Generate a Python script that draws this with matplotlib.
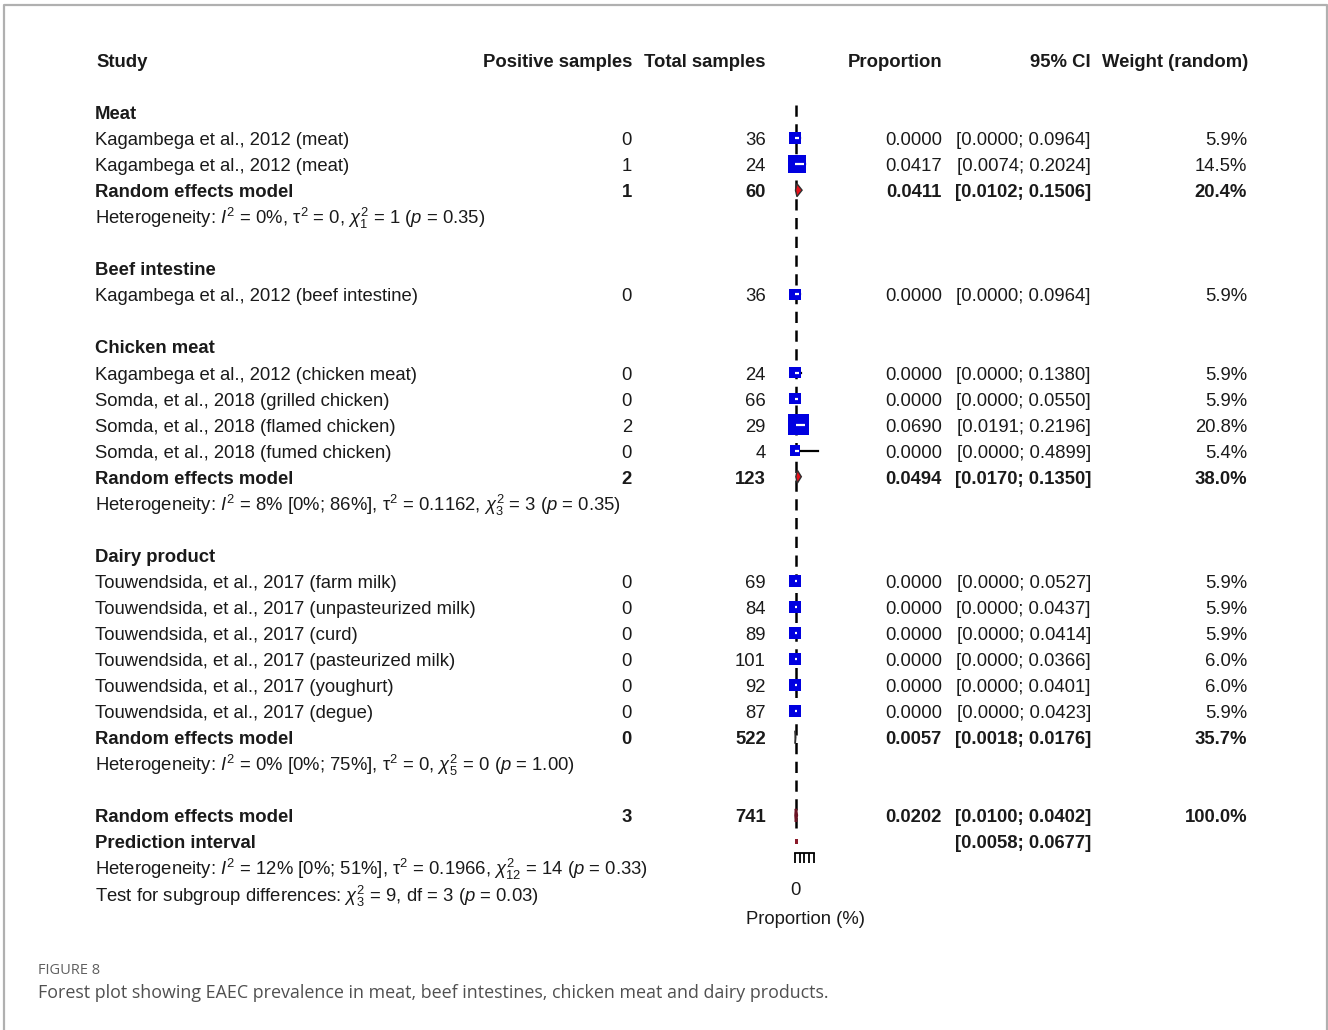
import matplotlib
matplotlib.use("Agg")
import matplotlib.pyplot as plt
from matplotlib.patches import Polygon, Rectangle
import numpy as np

plt.rcParams['font.family'] = ['Liberation Sans', 'DejaVu Sans']
plt.rcParams['mathtext.fontset'] = 'custom'
plt.rcParams['mathtext.rm'] = 'Liberation Sans'
plt.rcParams['mathtext.it'] = 'Liberation Sans:italic'
plt.rcParams['mathtext.bf'] = 'Liberation Sans:bold'

# ---- data ----
groups = ["Meat", "Beef intestine", "Chicken meat", "Dairy product"]
study_names = [
    "Kagambega et al., 2012 (meat)",
    "Kagambega et al., 2012 (meat)",
    "Kagambega et al., 2012 (beef intestine)",
    "Kagambega et al., 2012 (chicken meat)",
    "Somda, et al., 2018 (grilled chicken)",
    "Somda, et al., 2018 (flamed chicken)",
    "Somda, et al., 2018 (fumed chicken)",
    "Touwendsida, et al., 2017 (farm milk)",
    "Touwendsida, et al., 2017 (unpasteurized milk)",
    "Touwendsida, et al., 2017 (curd)",
    "Touwendsida, et al., 2017 (pasteurized milk)",
    "Touwendsida, et al., 2017 (youghurt)",
    "Touwendsida, et al., 2017 (degue)",
]
study_group = [0, 0, 1, 2, 2, 2, 2, 3, 3, 3, 3, 3, 3]
events = [0, 1, 0, 0, 0, 2, 0, 0, 0, 0, 0, 0, 0]
totals = [36, 24, 36, 24, 66, 29, 4, 69, 84, 89, 101, 92, 87]
props = [0.0, 0.0417, 0.0, 0.0, 0.0, 0.0690, 0.0, 0.0, 0.0, 0.0, 0.0, 0.0, 0.0]
ci_lo = [0.0, 0.0074, 0.0, 0.0, 0.0, 0.0191, 0.0, 0.0, 0.0, 0.0, 0.0, 0.0, 0.0]
ci_hi = [0.0964, 0.2024, 0.0964, 0.1380, 0.0550, 0.2196, 0.4899,
         0.0527, 0.0437, 0.0414, 0.0366, 0.0401, 0.0423]
weights = [5.9, 14.5, 5.9, 5.9, 5.9, 20.8, 5.4, 5.9, 5.9, 5.9, 6.0, 6.0, 5.9]

# subgroup random effects (None = single study, no pooled row)
sub_events = [1, None, 2, 0]
sub_totals = [60, None, 123, 522]
sub_prop = [0.0411, None, 0.0494, 0.0057]
sub_lo = [0.0102, None, 0.0170, 0.0018]
sub_hi = [0.1506, None, 0.1350, 0.0176]
sub_w = [20.4, None, 38.0, 35.7]
sub_het = [
    r"Heterogeneity: $I^2$ = 0%, $\mathrm{\tau}^2$ = 0, $\chi^2_1$ = 1 ($p$ = 0.35)",
    None,
    r"Heterogeneity: $I^2$ = 8% [0%; 86%], $\mathrm{\tau}^2$ = 0.1162, $\chi^2_3$ = 3 ($p$ = 0.35)",
    r"Heterogeneity: $I^2$ = 0% [0%; 75%], $\mathrm{\tau}^2$ = 0, $\chi^2_5$ = 0 ($p$ = 1.00)",
]

overall_events = 3
overall_total = 741
overall_prop = 0.0202
overall_lo = 0.0100
overall_hi = 0.0402
overall_w = 100.0
pred_lo = 0.0058
pred_hi = 0.0677
overall_het = r"Heterogeneity: $I^2$ = 12% [0%; 51%], $\mathrm{\tau}^2$ = 0.1966, $\chi^2_{12}$ = 14 ($p$ = 0.33)"
subgroup_test = r"Test for subgroup differences: $\chi^2_3$ = 9, df = 3 ($p$ = 0.03)"

axis_ticks = [0.0, 0.1, 0.2, 0.3, 0.4]
axis_labels = ["0", "", "", "", ""]

# ---- layout ----
W, H = 1328, 1030
ROW0, ROWH = 112, 26.05
TXT_DY = 2.5
FS = 13.3
TXT = "#1a1a1a"
X_STUDY, X_POS, X_TOT, X_PROP, X_CI, X_W = 95, 632, 766, 942, 1091, 1247
BLUE = "#0000e0"


def py(r):
    return ROW0 + ROWH * r + TXT_DY


fig = plt.figure(figsize=(W / 100, H / 100), dpi=100)
tax = fig.add_axes([0, 0, 1, 1])
tax.set_xlim(0, W)
tax.set_ylim(H, 0)
tax.axis("off")

# forest panel: x in proportion units, y in row units
px0, pscale = 795, 47.0
fx_l, fx_r = 780, 830
fax = fig.add_axes([fx_l / W, 0, (fx_r - fx_l) / W, 1])
fax.set_xlim((fx_l - px0) / pscale, (fx_r - px0) / pscale)
fax.set_ylim((H - ROW0) / ROWH, -ROW0 / ROWH)
fax.patch.set_visible(False)
for s in ["top", "left", "right"]:
    fax.spines[s].set_visible(False)
fax.set_yticks([])


def txt(x, r, s, ha="left", bold=False, **kw):
    tax.text(x, py(r), s, ha=ha, va="center", fontsize=FS, color=TXT,
             fontweight="bold" if bold else "normal", **kw)


# headers
hy = (60 - ROW0) / ROWH
txt(X_STUDY + 1, hy, "Study", bold=True)
txt(X_POS, hy, "Positive samples", ha="right", bold=True)
txt(X_TOT, hy, "Total samples", ha="right", bold=True)
txt(X_PROP, hy, "Proportion", ha="right", bold=True)
txt(X_CI, hy, "95% CI", ha="right", bold=True)
txt(X_W + 1, hy, "Weight (random)", ha="right", bold=True)


def diamond(r, est, lo, hi, fc, ec, lw=1.0):
    h = 0.25
    fax.add_patch(Polygon([[lo, r], [est, r - h], [hi, r], [est, r + h]],
                          closed=True, facecolor=fc, edgecolor=ec, lw=lw, zorder=4))


row = 0
for g, gname in enumerate(groups):
    txt(X_STUDY, row, gname, bold=True)
    row += 1
    for i in range(len(study_names)):
        if study_group[i] != g:
            continue
        txt(X_STUDY, row, study_names[i])
        txt(X_POS, row, str(events[i]), ha="right")
        txt(X_TOT, row, str(totals[i]), ha="right")
        txt(X_PROP, row, f"{props[i]:.4f}", ha="right")
        txt(X_CI, row, f"[{ci_lo[i]:.4f}; {ci_hi[i]:.4f}]", ha="right")
        txt(X_W, row, f"{weights[i]:.1f}%", ha="right")
        # CI line, box, inside part white
        fax.plot([ci_lo[i], ci_hi[i]], [row, row], color="black", lw=1.6, zorder=3)
        side_px = 3.6 * np.sqrt(weights[i])
        fax.scatter([props[i]], [row], marker="s", s=(side_px * 0.72 * 1.3) ** 2,
                    color=BLUE, edgecolors="none", zorder=4)
        half = side_px / 2 / pscale
        a, b = max(ci_lo[i], props[i] - half), min(ci_hi[i], props[i] + half)
        fax.plot([a, b], [row, row], color="white", lw=1.6, zorder=5,
                 solid_capstyle="butt")
        row += 1
    if sub_prop[g] is not None:
        txt(X_STUDY, row, "Random effects model", bold=True)
        txt(X_POS, row, str(sub_events[g]), ha="right", bold=True)
        txt(X_TOT, row, str(sub_totals[g]), ha="right", bold=True)
        txt(X_PROP, row, f"{sub_prop[g]:.4f}", ha="right", bold=True)
        txt(X_CI, row, f"[{sub_lo[g]:.4f}; {sub_hi[g]:.4f}]", ha="right", bold=True)
        txt(X_W, row, f"{sub_w[g]:.1f}%", ha="right", bold=True)
        diamond(row, sub_prop[g], sub_lo[g], sub_hi[g], "#e8101a", "#303030")
        row += 1
        txt(X_STUDY, row, sub_het[g])
        row += 1
    row += 1

# overall
txt(X_STUDY, row, "Random effects model", bold=True)
txt(X_POS, row, str(overall_events), ha="right", bold=True)
txt(X_TOT, row, str(overall_total), ha="right", bold=True)
txt(X_PROP, row, f"{overall_prop:.4f}", ha="right", bold=True)
txt(X_CI, row, f"[{overall_lo:.4f}; {overall_hi:.4f}]", ha="right", bold=True)
txt(X_W, row, f"{overall_w:.1f}%", ha="right", bold=True)
diamond(row, overall_prop, overall_lo, overall_hi, "#8b1a2a", "#6a1424", lw=1.8)
overall_row = row
row += 1
txt(X_STUDY, row, "Prediction interval", bold=True)
txt(X_CI, row, f"[{pred_lo:.4f}; {pred_hi:.4f}]", ha="right", bold=True)
fax.add_patch(Rectangle((pred_lo, row - 0.1), pred_hi - pred_lo, 0.2,
                        facecolor="#8b1a2a", edgecolor="none", zorder=4))
row += 1
txt(X_STUDY, row, overall_het)
row += 1
txt(X_STUDY, row, subgroup_test)

# dashed reference line at overall estimate
fax.plot([overall_prop, overall_prop], [-0.28, overall_row + 0.5], color="black",
         lw=1.8, dashes=(4.5, 3.0), zorder=2)

# x axis
fax.spines["bottom"].set_position(("data", (853 - ROW0) / ROWH))
fax.spines["bottom"].set_bounds(axis_ticks[0], axis_ticks[-1])
fax.spines["bottom"].set_linewidth(1.3)
fax.set_xticks(axis_ticks)
fax.set_xticklabels(axis_labels)
fax.tick_params(axis="x", length=7, width=1.3, pad=14, labelsize=FS, labelcolor=TXT)
tax.text(px0 + 11, 920, "Proportion (%)", ha="center", va="center", fontsize=FS, color=TXT)

# frame and caption
tax.plot([4, 4, 1327, 1327], [H, 5, 5, H], color="#b0b0b0", lw=1.6, clip_on=False)
tax.text(38, 970, "FIGURE 8", ha="left", va="center", fontsize=10.5, color="#606060",
         family="Open Sans")
tax.text(38, 993, "Forest plot showing EAEC prevalence in meat, beef intestines, chicken meat and dairy products.",
         ha="left", va="center", fontsize=12.9, color="#505050", family="Open Sans")

fig.savefig("out.png", dpi=100)
